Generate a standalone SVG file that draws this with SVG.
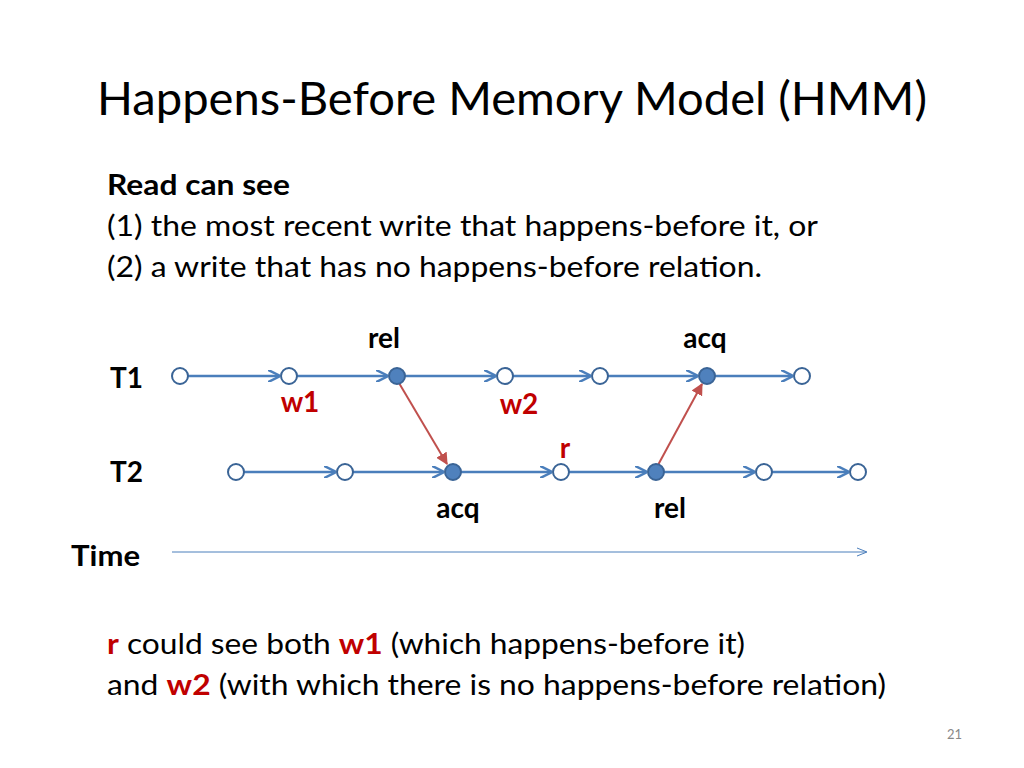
<svg xmlns="http://www.w3.org/2000/svg" width="1024" height="768" viewBox="0 0 1024 768">
<defs>
<marker id="ab" viewBox="0 0 10 10" refX="9" refY="5" markerWidth="5" markerHeight="5" orient="auto"><path d="M0,0 L10,5 L0,10" fill="none" stroke="#4a7ebb" stroke-width="2"/></marker>
<marker id="ar" viewBox="0 0 10 10" refX="9" refY="5" markerWidth="6" markerHeight="6" orient="auto"><path d="M0,0 L10,5 L0,10 z" fill="#c0504d"/></marker>
<marker id="at" viewBox="0 0 10 10" refX="9" refY="5" markerWidth="10" markerHeight="10" orient="auto"><path d="M0,1 L10,5 L0,9" fill="none" stroke="#4a7ebb" stroke-width="1"/></marker>
</defs>
<style>
text{font-family:Lato,"Open Sans","Liberation Sans",sans-serif;fill:#000}
.b{font-weight:bold}
.red{fill:#c00000;font-weight:bold}
.e{stroke:#4a7ebb;stroke-width:2.5;fill:none;marker-end:url(#ab)}
.s{stroke:#c0504d;stroke-width:2;fill:none;marker-end:url(#ar)}
.o{fill:#fff;stroke:#3a6496;stroke-width:2}
.f{fill:#4f81bd;stroke:#3a6496;stroke-width:2}
</style>
<rect width="1024" height="768" fill="#fff"/>
<text x="97" y="115" font-size="47" textLength="830" lengthAdjust="spacingAndGlyphs">Happens-Before Memory Model (HMM)</text>
<text x="107" y="195" font-size="28" class="b" textLength="183" lengthAdjust="spacingAndGlyphs">Read can see</text>
<text x="107" y="236" font-size="28" textLength="711" lengthAdjust="spacingAndGlyphs">(1) the most recent write that happens-before it, or</text>
<text x="107" y="277" font-size="28" textLength="655" lengthAdjust="spacingAndGlyphs">(2) a write that has no happens-before relation.</text>
<text x="110" y="388" font-size="28" class="b">T1</text>
<text x="110" y="482" font-size="28" class="b">T2</text>
<text x="71" y="566" font-size="28" class="b" textLength="69" lengthAdjust="spacingAndGlyphs">Time</text>
<g id="connectors">
<path class="e" d="M188,376H279"/><path class="e" d="M297,376H387"/><path class="e" d="M405,376H495"/><path class="e" d="M513,376H590"/><path class="e" d="M608,376H697"/><path class="e" d="M715,376H792"/>
<path class="e" d="M244,472H335"/><path class="e" d="M353,472H443"/><path class="e" d="M461,472H551"/><path class="e" d="M569,472H646"/><path class="e" d="M664,472H754"/><path class="e" d="M772,472H848"/>
<path class="s" d="M399,383L447,464"/><path class="s" d="M658,465L702,384"/>
<path d="M172,552H866" stroke="#4a7ebb" stroke-width="1" fill="none" marker-end="url(#at)"/>
</g>
<g id="t1">
<circle class="o" cx="180" cy="376" r="8"/><circle class="o" cx="289" cy="376" r="8"/><circle class="f" cx="397" cy="376" r="8"/><circle class="o" cx="505" cy="376" r="8"/><circle class="o" cx="600" cy="376" r="8"/><circle class="f" cx="707" cy="376" r="8"/><circle class="o" cx="802" cy="376" r="8"/>
</g>
<g id="t2">
<circle class="o" cx="236" cy="472" r="8"/><circle class="o" cx="345" cy="472" r="8"/><circle class="f" cx="453" cy="472" r="8"/><circle class="o" cx="561" cy="472" r="8"/><circle class="f" cx="656" cy="472" r="8"/><circle class="o" cx="764" cy="472" r="8"/><circle class="o" cx="858" cy="472" r="8"/>
</g>
<g id="labels" font-size="28">
<text x="384" y="348" class="b" text-anchor="middle">rel</text>
<text x="705" y="348" class="b" text-anchor="middle">acq</text>
<text x="300" y="412" class="red" text-anchor="middle">w1</text>
<text x="519" y="414" class="red" text-anchor="middle">w2</text>
<text x="565" y="458" class="red" text-anchor="middle">r</text>
<text x="458" y="518" class="b" text-anchor="middle">acq</text>
<text x="670" y="518" class="b" text-anchor="middle">rel</text>
</g>
<text x="107" y="654" font-size="28" textLength="638" lengthAdjust="spacingAndGlyphs"><tspan class="red">r</tspan> could see both <tspan class="red">w1</tspan> (which happens-before it)</text>
<text x="107" y="695" font-size="28" textLength="779" lengthAdjust="spacingAndGlyphs">and <tspan class="red">w2</tspan> (with which there is no happens-before relation)</text>
<text x="962" y="739" font-size="13" style="fill:#888" text-anchor="end">21</text>
</svg>
